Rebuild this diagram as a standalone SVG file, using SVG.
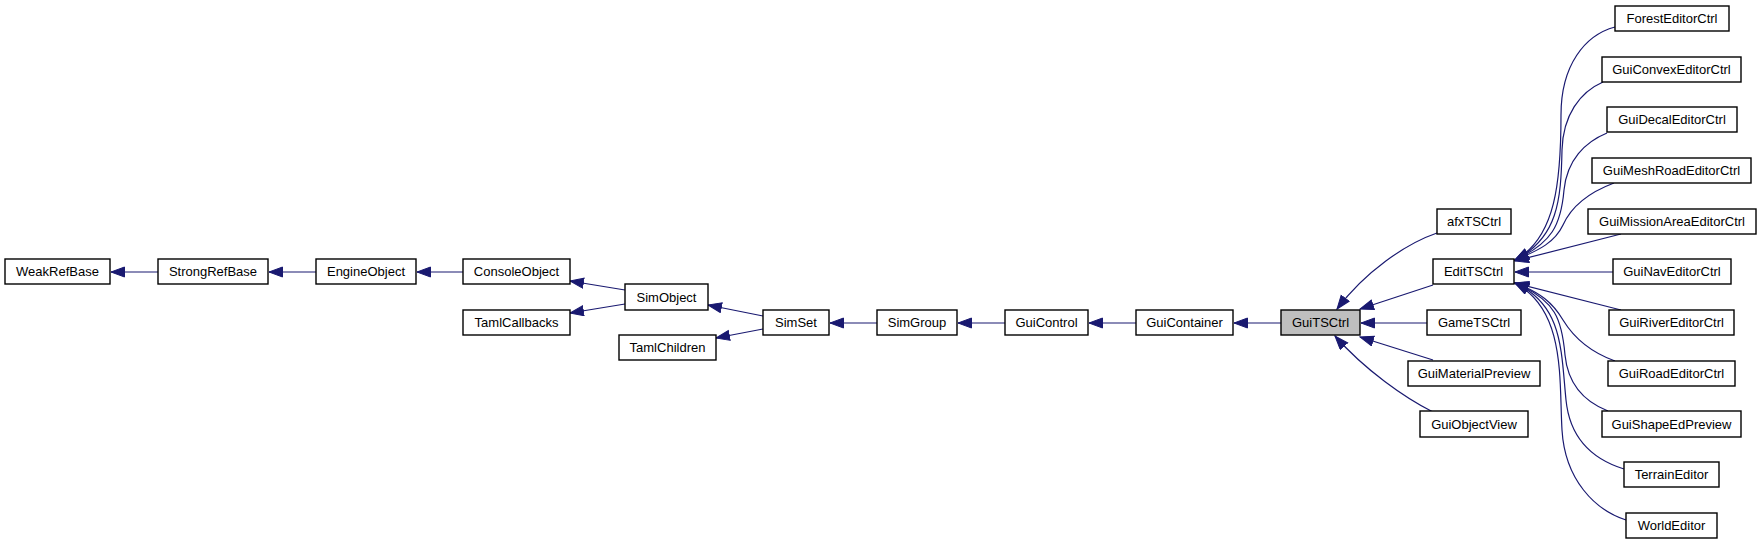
<svg xmlns="http://www.w3.org/2000/svg" width="1761" height="544" viewBox="0 0 1761 544">
<style>
.n rect{fill:#fff;stroke:#000;stroke-width:1.4}
.n.cur rect{fill:#bfbfbf}
.n text{font-family:"Liberation Sans",Arial,sans-serif;font-size:13px;text-anchor:middle;fill:#000}
.e path{fill:none;stroke:#191970;stroke-width:1.2;marker-end:url(#arr)}
</style>
<defs>
<marker id="arr" markerUnits="userSpaceOnUse" markerWidth="15" markerHeight="12" refX="14" refY="5.5" orient="auto">
<path d="M0.5,0.5 L14,5.5 L0.5,10.5 z" fill="#191970" stroke="#191970" stroke-width="1"/>
</marker>
</defs>
<rect width="1761" height="544" fill="#fff"/>
<g id="edges" class="e">
<path d="M158,272 H111"/>
<path d="M316,272 H269"/>
<path d="M463,272 H417"/>
<path d="M625,290 L570,281"/>
<path d="M625,304 L570,313"/>
<path d="M763,316 L708,305"/>
<path d="M763,329 L716,338"/>
<path d="M877,323 H830"/>
<path d="M1005,323 H958"/>
<path d="M1136,323 H1089"/>
<path d="M1281,323 H1234"/>
<path d="M1437,233 C1405,244 1365,272 1337,309"/>
<path d="M1433,285 L1360,309"/>
<path d="M1427,323 H1361"/>
<path d="M1433,360 L1360,337"/>
<path d="M1433,412 C1405,398 1365,370 1335,336"/>
<path d="M1615,27 C1585,35 1561,65 1561,115 C1561,180 1556,238 1515,260"/>
<path d="M1603,82 C1580,92 1563,115 1562,150 C1561,200 1558,238 1515,260"/>
<path d="M1607,133 C1585,142 1567,160 1564,190 C1561,225 1552,243 1515,260"/>
<path d="M1614,183 C1590,192 1572,205 1563,225 C1555,242 1540,250 1515,260"/>
<path d="M1621,234 L1515,261"/>
<path d="M1613,272 H1515"/>
<path d="M1621,310 L1515,283"/>
<path d="M1615,361 C1590,352 1574,338 1563,320 C1553,303 1540,292 1515,283"/>
<path d="M1608,411 C1585,402 1568,385 1565,355 C1562,320 1556,300 1515,283"/>
<path d="M1624,469 C1595,460 1570,440 1566,400 C1561,350 1563,305 1515,283"/>
<path d="M1626,520 C1595,510 1565,480 1562,430 C1559,380 1566,310 1515,283"/>
</g>
<g id="WeakRefBase" class="n"><rect x="5" y="259" width="105" height="25"/><text x="57.5" y="276">WeakRefBase</text></g>
<g id="StrongRefBase" class="n"><rect x="158" y="259" width="110" height="25"/><text x="213" y="276">StrongRefBase</text></g>
<g id="EngineObject" class="n"><rect x="316" y="259" width="100" height="25"/><text x="366" y="276">EngineObject</text></g>
<g id="ConsoleObject" class="n"><rect x="463" y="259" width="107" height="25"/><text x="516.5" y="276">ConsoleObject</text></g>
<g id="TamlCallbacks" class="n"><rect x="463" y="310" width="107" height="25"/><text x="516.5" y="327">TamlCallbacks</text></g>
<g id="SimObject" class="n"><rect x="625" y="284" width="83" height="26"/><text x="666.5" y="301.5">SimObject</text></g>
<g id="TamlChildren" class="n"><rect x="619" y="335" width="97" height="25"/><text x="667.5" y="352">TamlChildren</text></g>
<g id="SimSet" class="n"><rect x="763" y="310" width="66" height="25"/><text x="796" y="327">SimSet</text></g>
<g id="SimGroup" class="n"><rect x="877" y="310" width="80" height="25"/><text x="917" y="327">SimGroup</text></g>
<g id="GuiControl" class="n"><rect x="1005" y="310" width="83" height="25"/><text x="1046.5" y="327">GuiControl</text></g>
<g id="GuiContainer" class="n"><rect x="1136" y="310" width="97" height="25"/><text x="1184.5" y="327">GuiContainer</text></g>
<g id="GuiTSCtrl" class="n cur"><rect x="1281" y="310" width="79" height="25"/><text x="1320.5" y="327">GuiTSCtrl</text></g>
<g id="afxTSCtrl" class="n"><rect x="1437" y="209" width="74" height="25"/><text x="1474" y="226">afxTSCtrl</text></g>
<g id="EditTSCtrl" class="n"><rect x="1433" y="259" width="81" height="25"/><text x="1473.5" y="276">EditTSCtrl</text></g>
<g id="GameTSCtrl" class="n"><rect x="1427" y="310" width="94" height="25"/><text x="1474" y="327">GameTSCtrl</text></g>
<g id="GuiMaterialPreview" class="n"><rect x="1408" y="361" width="132" height="25"/><text x="1474" y="378">GuiMaterialPreview</text></g>
<g id="GuiObjectView" class="n"><rect x="1420" y="411" width="108" height="26"/><text x="1474" y="428.5">GuiObjectView</text></g>
<g id="ForestEditorCtrl" class="n"><rect x="1615" y="6" width="114" height="25"/><text x="1672" y="23">ForestEditorCtrl</text></g>
<g id="GuiConvexEditorCtrl" class="n"><rect x="1602" y="57" width="139" height="25"/><text x="1671.5" y="74">GuiConvexEditorCtrl</text></g>
<g id="GuiDecalEditorCtrl" class="n"><rect x="1607" y="107" width="130" height="25"/><text x="1672" y="124">GuiDecalEditorCtrl</text></g>
<g id="GuiMeshRoadEditorCtrl" class="n"><rect x="1592" y="158" width="159" height="25"/><text x="1671.5" y="175">GuiMeshRoadEditorCtrl</text></g>
<g id="GuiMissionAreaEditorCtrl" class="n"><rect x="1588" y="209" width="168" height="25"/><text x="1672" y="226">GuiMissionAreaEditorCtrl</text></g>
<g id="GuiNavEditorCtrl" class="n"><rect x="1613" y="259" width="118" height="25"/><text x="1672" y="276">GuiNavEditorCtrl</text></g>
<g id="GuiRiverEditorCtrl" class="n"><rect x="1609" y="310" width="125" height="25"/><text x="1671.5" y="327">GuiRiverEditorCtrl</text></g>
<g id="GuiRoadEditorCtrl" class="n"><rect x="1608" y="361" width="127" height="25"/><text x="1671.5" y="378">GuiRoadEditorCtrl</text></g>
<g id="GuiShapeEdPreview" class="n"><rect x="1602" y="411" width="139" height="26"/><text x="1671.5" y="428.5">GuiShapeEdPreview</text></g>
<g id="TerrainEditor" class="n"><rect x="1624" y="462" width="95" height="25"/><text x="1671.5" y="479">TerrainEditor</text></g>
<g id="WorldEditor" class="n"><rect x="1626" y="513" width="91" height="25"/><text x="1671.5" y="530">WorldEditor</text></g>
</svg>
